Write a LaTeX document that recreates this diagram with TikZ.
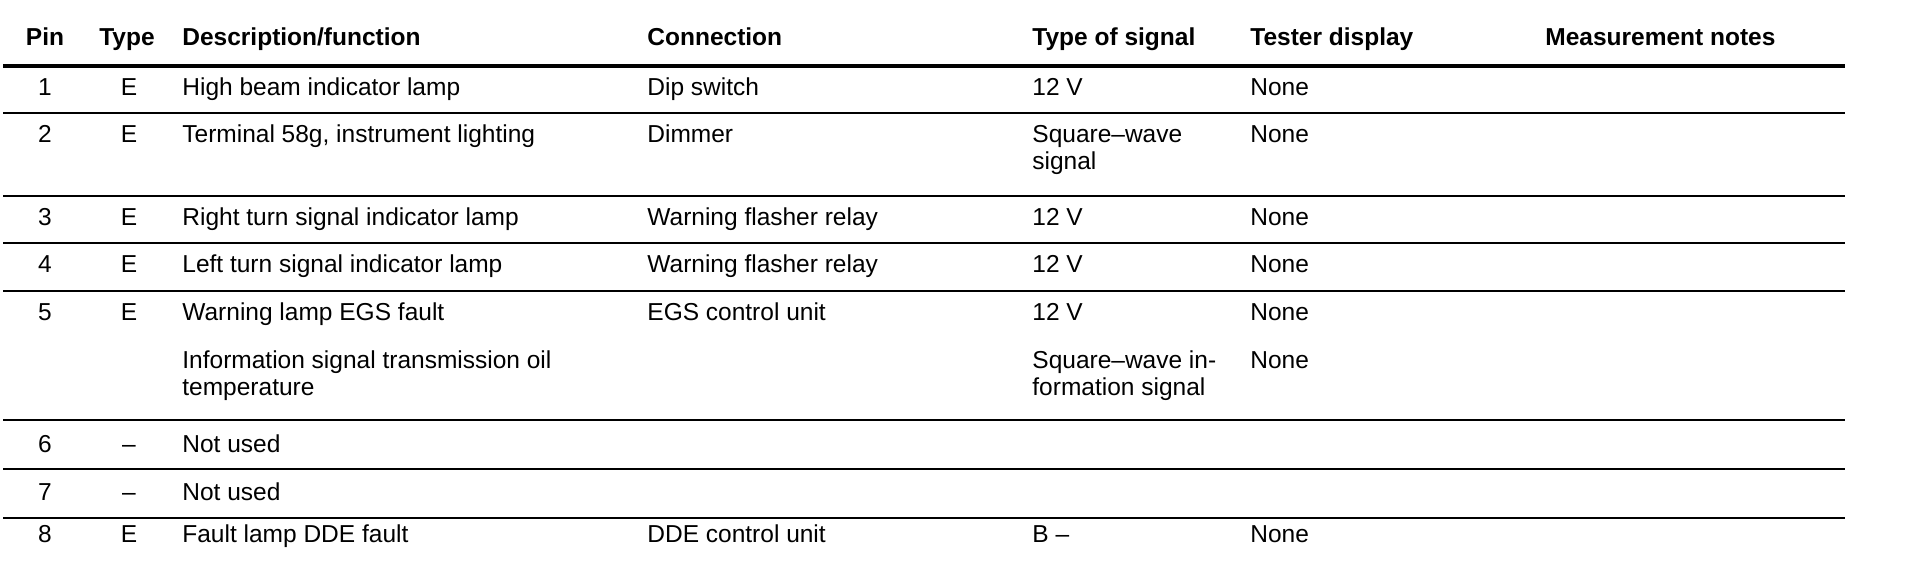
\documentclass[tikz,border=0pt]{standalone}
\usepackage{fontspec}
\setmainfont{Liberation Sans}
\usepackage{tikz}

\newcommand{\tabfont}{\fontsize{12.25pt}{14pt}\selectfont}
\tikzset{
    head/.style = {font=\tabfont\bfseries, anchor=base west, inner sep=0pt},
    headmid/.style = {font=\tabfont\bfseries, anchor=base, inner sep=0pt},
    cell/.style = {font=\tabfont, anchor=base west, inner sep=0pt},
    cellmid/.style = {font=\tabfont, anchor=base, inner sep=0pt},
    thickrule/.style = {line width=1.75pt},
    thinrule/.style = {line width=1pt}
}

\begin{document}
\begin{tikzpicture}[x=0.5pt, y=-0.5pt]
        \useasboundingbox (0, 0) rectangle (1926, 576);

        % header
        \node[headmid] (h-pin) at (45, 46) {Pin};
        \node[headmid] (h-type) at (127, 46) {Type};
        \node[head] (h-desc) at (182, 46) {Description/function};
        \node[head] (h-conn) at (647, 46) {Connection};
        \node[head] (h-sig) at (1032, 46) {Type of signal};
        \node[head] (h-test) at (1250, 46) {Tester display};
        \node[head] (h-notes) at (1545, 46) {Measurement notes};

        \draw[thickrule] (3, 66) -- (1845, 66);
        \draw[thinrule] (3, 113) -- (1845, 113);
        \draw[thinrule] (3, 196) -- (1845, 196);
        \draw[thinrule] (3, 243) -- (1845, 243);
        \draw[thinrule] (3, 291) -- (1845, 291);
        \draw[thinrule] (3, 420) -- (1845, 420);
        \draw[thinrule] (3, 469) -- (1845, 469);
        \draw[thinrule] (3, 518) -- (1845, 518);

        % pin 1
        \node[cellmid] (p1) at (45, 96) {1};
        \node[cellmid] (t1) at (129, 96) {E};
        \node[cell] (d1) at (182, 96) {High beam indicator lamp};
        \node[cell] (c1) at (647, 96) {Dip switch};
        \node[cell] (s1) at (1032, 96) {12 V};
        \node[cell] (n1) at (1250, 96) {None};

        % pin 2
        \node[cellmid] (p2) at (45, 143) {2};
        \node[cellmid] (t2) at (129, 143) {E};
        \node[cell] (d2) at (182, 143) {Terminal 58g, instrument lighting};
        \node[cell] (c2) at (647, 143) {Dimmer};
        \node[cell] (s2) at (1032, 143) {Square–wave};
        \node[cell] (s2b) at (1032, 170) {signal};
        \node[cell] (n2) at (1250, 143) {None};

        % pin 3
        \node[cellmid] (p3) at (45, 226) {3};
        \node[cellmid] (t3) at (129, 226) {E};
        \node[cell] (d3) at (182, 226) {Right turn signal indicator lamp};
        \node[cell] (c3) at (647, 226) {Warning flasher relay};
        \node[cell] (s3) at (1032, 226) {12 V};
        \node[cell] (n3) at (1250, 226) {None};

        % pin 4
        \node[cellmid] (p4) at (45, 273) {4};
        \node[cellmid] (t4) at (129, 273) {E};
        \node[cell] (d4) at (182, 273) {Left turn signal indicator lamp};
        \node[cell] (c4) at (647, 273) {Warning flasher relay};
        \node[cell] (s4) at (1032, 273) {12 V};
        \node[cell] (n4) at (1250, 273) {None};

        % pin 5
        \node[cellmid] (p5) at (45, 321) {5};
        \node[cellmid] (t5) at (129, 321) {E};
        \node[cell] (d5) at (182, 321) {Warning lamp EGS fault};
        \node[cell] (c5) at (647, 321) {EGS control unit};
        \node[cell] (s5) at (1032, 321) {12 V};
        \node[cell] (n5) at (1250, 321) {None};
        \node[cell] (d5b) at (182, 369) {Information signal transmission oil};
        \node[cell] (d5c) at (182, 396) {temperature};
        \node[cell] (s5b) at (1032, 369) {Square–wave in-};
        \node[cell] (s5c) at (1032, 396) {formation signal};
        \node[cell] (n5b) at (1250, 369) {None};

        % pins 6 and 7
        \node[cellmid] (p6) at (45, 453) {6};
        \node[cellmid] (t6) at (129, 453) {–};
        \node[cell] (d6) at (182, 453) {Not used};
        \node[cellmid] (p7) at (45, 501) {7};
        \node[cellmid] (t7) at (129, 501) {–};
        \node[cell] (d7) at (182, 501) {Not used};

        % pin 8
        \node[cellmid] (p8) at (45, 543) {8};
        \node[cellmid] (t8) at (129, 543) {E};
        \node[cell] (d8) at (182, 543) {Fault lamp DDE fault};
        \node[cell] (c8) at (647, 543) {DDE control unit};
        \node[cell] (s8) at (1032, 543) {B –};
        \node[cell] (n8) at (1250, 543) {None};
    \end{tikzpicture}
\end{document}
